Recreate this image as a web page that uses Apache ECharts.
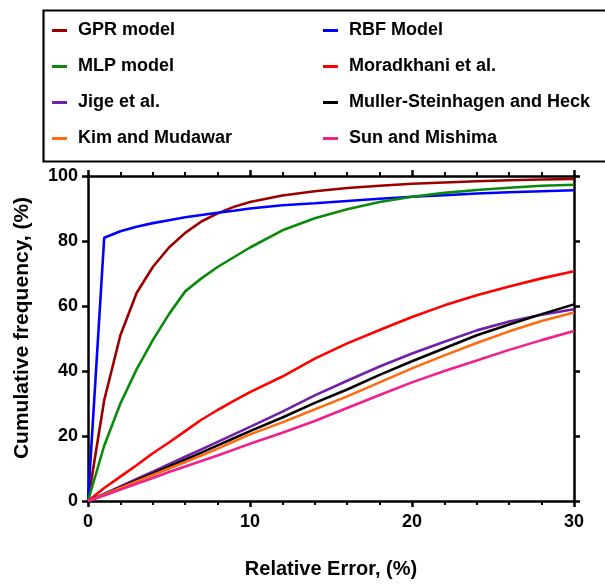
<!DOCTYPE html>
<html>
<head>
<meta charset="utf-8">
<script src="https://cdn.jsdelivr.net/npm/echarts@6/dist/echarts.min.js"></script>
<style>
  html, body { margin: 0; padding: 0; background: #fff; }
  #chart { width: 605px; height: 585px; }
</style>
</head>
<body>
<div id="chart"></div>
<script>
// ---- data ----
const relError = [0, 1, 2, 3, 4, 5, 6, 7, 8, 9, 10, 12, 14, 16, 18, 20, 22, 24, 26, 28, 30];
const gprModel = [0, 31, 51, 64, 72, 78, 82.5, 86, 88.5, 90.5, 92, 94, 95.3, 96.3, 97, 97.6, 98, 98.4, 98.7, 98.9, 99.1];
const rbfModel = [0, 81, 83, 84.4, 85.5, 86.4, 87.3, 88, 88.7, 89.3, 90, 91, 91.6, 92.3, 93, 93.6, 94.1, 94.6, 95, 95.3, 95.6];
const mlpModel = [0, 17, 30, 40.5, 49.5, 57.5, 64.5, 68.5, 72, 75, 78, 83.3, 87, 89.8, 92, 93.6, 94.8, 95.7, 96.4, 97, 97.3];
const moradkhani = [0, 4, 7.5, 11, 14.7, 18, 21.5, 25, 28, 30.8, 33.5, 38.3, 43.8, 48.5, 52.6, 56.6, 60.2, 63.3, 66, 68.5, 70.7];
const jige = [0, 2.2, 4.5, 6.8, 9, 11.3, 13.6, 15.9, 18.2, 20.5, 22.8, 27.5, 32.5, 37, 41.4, 45.4, 49, 52.5, 55.2, 57.3, 59];
const mullerHeck = [0, 2.1, 4.2, 6.3, 8.5, 10.6, 12.7, 14.9, 17.1, 19.3, 21.5, 25.7, 30.2, 34.3, 38.8, 43, 47, 51, 54.3, 57.5, 60.5];
const kimMudawar = [0, 2, 4, 6, 8, 10, 12, 14, 16.1, 18.3, 20.5, 24.2, 28.2, 32.2, 36.5, 40.8, 44.8, 48.6, 52.2, 55.4, 58];
const sunMishima = [0, 1.7, 3.5, 5.3, 7.1, 8.9, 10.6, 12.3, 14, 15.8, 17.6, 21, 24.6, 28.6, 32.6, 36.5, 40, 43.2, 46.5, 49.5, 52.3];

const xTicks = { min: 0, max: 30, interval: 10 };
const yTicks = { min: 0, max: 100, interval: 20 };
const xTitle = 'Relative Error, (%)';
const yTitle = 'Cumulative frequency, (%)';

const seriesDefs = [
  { name: 'GPR model', values: gprModel, color: '#9B0000' },
  { name: 'RBF Model', values: rbfModel, color: '#0000FF' },
  { name: 'MLP model', values: mlpModel, color: '#0A8A0A' },
  { name: 'Moradkhani et al.', values: moradkhani, color: '#FF0000' },
  { name: 'Jige et al.', values: jige, color: '#7020A8' },
  { name: 'Muller-Steinhagen and Heck', values: mullerHeck, color: '#000000' },
  { name: 'Kim and Mudawar', values: kimMudawar, color: '#FF6A10' },
  { name: 'Sun and Mishima', values: sunMishima, color: '#F0208C' }
];
const legendCol1 = ['GPR model', 'MLP model', 'Jige et al.', 'Kim and Mudawar'];
const legendCol2 = ['RBF Model', 'Moradkhani et al.', 'Muller-Steinhagen and Heck', 'Sun and Mishima'];

// ---- chart ----
const FONT = '"Liberation Sans", Arial, sans-serif';
const chart = echarts.init(document.getElementById('chart'), null, { renderer: 'canvas' });

const axisLine = { show: true, onZero: false, lineStyle: { color: '#000', width: 2.5 } };
const legendCommon = {
  orient: 'vertical',
  top: 20.5,
  padding: 0,
  itemWidth: 15,
  itemHeight: 3,
  itemGap: 16,
  icon: 'rect',
  selectedMode: false,
  textStyle: { fontFamily: FONT, fontWeight: 'bold', fontSize: 18, color: '#000', lineHeight: 20, padding: [0, 0, 0, 6] }
};

const option = {
  animation: false,
  backgroundColor: '#fff',
  grid: { left: 88, right: 31, top: 176, bottom: 84, containLabel: false, outerBoundsMode: 'none' },
  legend: [
    Object.assign({ left: 52, data: legendCol1 }, legendCommon),
    Object.assign({ left: 323, data: legendCol2 }, legendCommon)
  ],
  graphic: [
    { type: 'rect', left: 41, top: 8, shape: { width: 580, height: 151 },
      style: { fill: 'none', stroke: '#000', lineWidth: 2.2 }, silent: true },
    { type: 'text', x: 22, y: 328, rotation: Math.PI / 2,
      style: { text: yTitle, fontFamily: FONT, fontWeight: 'bold', fontSize: 21, fill: '#000',
               align: 'center', verticalAlign: 'middle' }, silent: true }
  ],
  xAxis: [
    {
      type: 'value', position: 'bottom', min: xTicks.min, max: xTicks.max, interval: xTicks.interval,
      name: xTitle, nameLocation: 'middle', nameGap: 58,
      nameTextStyle: { fontFamily: FONT, fontWeight: 'bold', fontSize: 20, color: '#000' },
      axisLine: axisLine,
      axisTick: { show: true, inside: false, length: 6, lineStyle: { color: '#000', width: 2.5 } },
      minorTick: { show: true, splitNumber: 5, length: 4, lineStyle: { color: '#000', width: 2 } },
      axisLabel: { margin: 12, fontFamily: FONT, fontWeight: 'bold', fontSize: 18, color: '#000' },
      splitLine: { show: false }
    },
    {
      type: 'value', position: 'top', min: xTicks.min, max: xTicks.max, interval: xTicks.interval,
      axisLine: axisLine,
      axisTick: { show: true, inside: false, length: 6, lineStyle: { color: '#000', width: 2.5 } },
      minorTick: { show: true, splitNumber: 5, length: 4, lineStyle: { color: '#000', width: 2 } },
      axisLabel: { show: false },
      splitLine: { show: false }
    }
  ],
  yAxis: [
    {
      type: 'value', position: 'left', min: yTicks.min, max: yTicks.max, interval: yTicks.interval,
      axisLine: axisLine,
      axisTick: { show: true, inside: false, length: 6, lineStyle: { color: '#000', width: 2.5 } },
      axisLabel: { margin: 10, fontFamily: FONT, fontWeight: 'bold', fontSize: 18, color: '#000' },
      splitLine: { show: false }
    },
    {
      type: 'value', position: 'right', min: yTicks.min, max: yTicks.max, interval: yTicks.interval,
      axisLine: axisLine,
      axisTick: { show: true, inside: false, length: 6, lineStyle: { color: '#000', width: 2.5 } },
      axisLabel: { show: false },
      splitLine: { show: false }
    }
  ],
  series: seriesDefs.map(s => ({
    name: s.name,
    type: 'line',
    xAxisIndex: 0,
    yAxisIndex: 0,
    data: relError.map((x, i) => [x, s.values[i]]),
    showSymbol: false,
    symbol: 'none',
    smooth: false,
    clip: false,
    color: s.color,
    lineStyle: { color: s.color, width: 2.6 },
    itemStyle: { color: s.color }
  }))
};
chart.setOption(option);
</script>
</body>
</html>
